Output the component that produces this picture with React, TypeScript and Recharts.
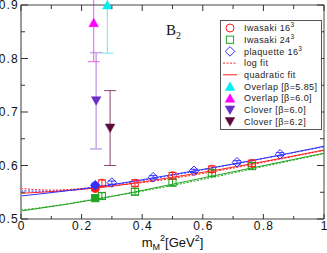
import React from 'react';
import { ComposedChart, Line, Scatter, XAxis, YAxis, ErrorBar, Legend } from 'recharts';

// ---------- data ----------
const xTicks = [0, 0.1, 0.2, 0.3, 0.4, 0.5, 0.6, 0.7, 0.8, 0.9, 1];
const xTickLabels = ['0', '', '0.2', '', '0.4', '', '0.6', '', '0.8', '', '1'];
const yTicks = [0.5, 0.55, 0.6, 0.65, 0.7, 0.75, 0.8, 0.85, 0.9];
const yTickLabels = ['0.5', '', '0.6', '', '0.7', '', '0.8', '', '0.9'];

// Iwasaki 16^3 (open red circles)
const iwa16X = [0.267, 0.376, 0.5, 0.63, 0.762];
const iwa16Y = [0.567, 0.567, 0.581, 0.593, 0.604];
const iwa16E = [0.006, 0.006, 0.006, 0.006, 0.006];
// Iwasaki 24^3 (open green squares)
const iwa24X = [0.267, 0.376, 0.5, 0.63, 0.762];
const iwa24Y = [0.543, 0.551, 0.568, 0.586, 0.599];
const iwa24E = [0.006, 0.006, 0.006, 0.006, 0.006];
// plaquette 16^3 (open blue diamonds)
const plaqX = [0.3, 0.436, 0.571, 0.713, 0.855];
const plaqY = [0.568, 0.578, 0.59, 0.606, 0.621];
const plaqE = [0.003, 0.003, 0.003, 0.003, 0.003];

// interpolated (filled) points
const iwa16FillX = [0.245];
const iwa16FillY = [0.557];
const iwa16FillE = [0.004];
const iwa24FillX = [0.245];
const iwa24FillY = [0.539];
const iwa24FillE = [0.004];
const plaqFillX = [0.245];
const plaqFillY = [0.563];
const plaqFillE = [0.004];

// quadratic fits (solid)
const fitX = [0, 0.25, 0.5, 0.75, 1];
const quadRed = [0.548, 0.558, 0.578, 0.602, 0.629];
const quadGreen = [0.515, 0.537, 0.565, 0.594, 0.623];
const quadBlue = [0.543, 0.56, 0.583, 0.608, 0.636];

// log fits (dashed)
const logX = [0, 0.05, 0.1, 0.15, 0.2, 0.25, 0.4, 0.6, 0.8, 1];
const logRed = [0.557, 0.555, 0.554, 0.555, 0.557, 0.56, 0.568, 0.585, 0.606, 0.628];
const logBlue = [0.553, 0.552, 0.552, 0.553, 0.556, 0.56, 0.572, 0.592, 0.613, 0.635];
const logGreen = [0.517, 0.52, 0.524, 0.528, 0.533, 0.538, 0.552, 0.574, 0.598, 0.622];

// lattice comparison points
const ovl585 = { x: [0.285], y: [0.9], e: [0.09] };
const ovl60 = { x: [0.24], y: [0.867], e: [0.073] };
const clv60 = { x: [0.248], y: [0.721], e: [0.09] };
const clv62 = { x: [0.294], y: [0.67], e: [0.07] };

const legendLabels = ['Iwasaki 16', 'Iwasaki 24', 'plaquette 16', 'log fit', 'quadratic fit',
  'Overlap [\u03b2=5.85]', 'Overlap [\u03b2=6.0]', 'Clover [\u03b2=6.0]', 'Clover [\u03b2=6.2]'];
const legendSups = ['3', '3', '3', '', '', '', '', '', ''];

// ---------- styling ----------
const RED = '#ff1f1f';
const GREEN = '#1fa51f';
const BLUE = '#3030ff';
const CYAN = '#00f0f0';
const MAGENTA = '#ff00ff';
const PURPLE = '#6a2ec8';
const MAROON = '#5c0a3c';
const FONT = '"Liberation Sans", Arial, Helvetica, sans-serif';

const pts = (xs: number[], ys: number[], es?: number[]) =>
  xs.map((x, i) => ({ x, y: ys[i], e: es ? es[i] : 0 }));

// ---------- marker shapes ----------
const circleShape = (color: string, filled: boolean) => (p: any) =>
  <circle cx={p.cx} cy={p.cy} r={4} fill={filled ? color : 'none'} stroke={color} strokeWidth={1} />;
const squareShape = (color: string, filled: boolean) => (p: any) =>
  <rect x={p.cx - 3.6} y={p.cy - 3.6} width={7.2} height={7.2} fill={filled ? color : 'none'} stroke={color} strokeWidth={1} />;
const diamondShape = (color: string, filled: boolean) => (p: any) =>
  <polygon points={`${p.cx},${p.cy - 4.8} ${p.cx + 4.8},${p.cy} ${p.cx},${p.cy + 4.8} ${p.cx - 4.8},${p.cy}`} fill={filled ? color : 'none'} stroke={color} strokeWidth={1} />;
const triUpShape = (color: string) => (p: any) =>
  <polygon points={`${p.cx},${p.cy - 4.5} ${p.cx + 4.8},${p.cy + 4} ${p.cx - 4.8},${p.cy + 4}`} fill={color} stroke={color} strokeWidth={0.5} />;
const triDownShape = (color: string) => (p: any) =>
  <polygon points={`${p.cx},${p.cy + 4.5} ${p.cx + 4.8},${p.cy - 4} ${p.cx - 4.8},${p.cy - 4}`} fill={color} stroke={color} strokeWidth={0.5} />;
const noShape = () => <g />;

// ---------- ticks ----------
const tickText = { fontFamily: FONT, fontSize: 12, fill: '#111', letterSpacing: 1.2 } as const;

const BottomTick = (p: any) => {
  const lab = xTickLabels[p.index];
  const len = lab ? 5 : 3;
  return (
    <g>
      <line x1={p.x} x2={p.x} y1={p.y} y2={p.y - len} stroke="#333" strokeWidth={1} />
      {lab ? <text x={p.x + 0.6} y={p.y + 11} textAnchor="middle" {...tickText}>{lab}</text> : null}
    </g>
  );
};
const TopTick = (p: any) => {
  const lab = xTickLabels[p.index];
  const len = lab ? 6 : 4;
  return <line x1={p.x} x2={p.x} y1={p.y} y2={p.y + len} stroke="#333" strokeWidth={1} />;
};
const LeftTick = (p: any) => {
  const lab = yTickLabels[p.index];
  const len = lab ? 7 : 4;
  return (
    <g>
      <line x1={p.x} x2={p.x + len} y1={p.y} y2={p.y} stroke="#333" strokeWidth={1} />
      {lab ? <text x={p.x - 2} y={p.y + 4} textAnchor="end" {...tickText}>{lab}</text> : null}
    </g>
  );
};
const RightTick = (p: any) => {
  const lab = yTickLabels[p.index];
  const len = lab ? 7 : 4;
  return <line x1={p.x} x2={p.x - len} y1={p.y} y2={p.y} stroke="#333" strokeWidth={1} />;
};

const XLabel = (p: any) => {
  const vb = p.viewBox || {};
  const cx = (vb.x ?? 21) + (vb.width ?? 303) / 2;
  return (
    <text x={cx} y={247} textAnchor="middle" fontFamily={FONT} fontSize={13} fill="#111">
      m
      <tspan fontSize={9} dy={3}>M</tspan>
      <tspan fontSize={9} dy={-9}>2</tspan>
      <tspan fontSize={13} dy={6}>[GeV</tspan>
      <tspan fontSize={9} dy={-6}>2</tspan>
      <tspan fontSize={13} dy={6}>]</tspan>
    </text>
  );
};

// ---------- legend ----------
const LegendIcon = ({ i, cx, cy }: { i: number; cx: number; cy: number }) => {
  const p = { cx, cy };
  switch (i) {
    case 0: return circleShape(RED, false)(p);
    case 1: return squareShape(GREEN, false)(p);
    case 2: return diamondShape(BLUE, false)(p);
    case 3: return <line x1={cx - 7} x2={cx + 7} y1={cy} y2={cy} stroke={RED} strokeDasharray="2 1.5" strokeWidth={1} />;
    case 4: return <line x1={cx - 7} x2={cx + 7} y1={cy} y2={cy} stroke={RED} strokeWidth={1} />;
    case 5: return triUpShape(CYAN)(p);
    case 6: return triUpShape(MAGENTA)(p);
    case 7: return triDownShape(PURPLE)(p);
    default: return triDownShape(MAROON)(p);
  }
};

const LegendBox = () => (
  <svg width={102} height={110} style={{ display: 'block' }}>
    <rect x={0.5} y={0.5} width={101} height={109} fill="#fff" stroke="#555" strokeWidth={1} />
    {legendLabels.map((lab, i) => {
      const cy = 8 + i * 11.7;
      return (
        <g key={lab}>
          <LegendIcon i={i} cx={10} cy={cy} />
          <text x={24} y={cy + 3.2} fontFamily={FONT} fontSize={9} letterSpacing={0.4} fill="#222">
            {lab}
            {legendSups[i] ? <tspan fontSize={6.5} dy={-4}>{legendSups[i]}</tspan> : null}
          </text>
        </g>
      );
    })}
  </svg>
);

export default function App() {
  return (
    <div style={{ position: 'absolute', left: 0, top: 0, width: 327, height: 253, background: '#fff' }}>
      <ComposedChart width={327} height={253} margin={{ top: 4, right: 2, bottom: 33, left: 20 }}>
        <XAxis xAxisId="b" dataKey="x" type="number" domain={[0, 1]} ticks={xTicks} interval={0}
          allowDataOverflow height={1} tickSize={0} tickMargin={0} tickLine={false}
          axisLine={{ stroke: '#444', strokeWidth: 1 }} tick={BottomTick} label={<XLabel />} />
        <XAxis xAxisId="t" orientation="top" dataKey="x" type="number" domain={[0, 1]} ticks={xTicks}
          interval={0} allowDataOverflow height={1} tickSize={0} tickMargin={0} tickLine={false}
          axisLine={{ stroke: '#444', strokeWidth: 1 }} tick={TopTick} />
        <YAxis yAxisId="l" dataKey="y" type="number" domain={[0.5, 0.9]} ticks={yTicks} interval={0}
          allowDataOverflow width={1} tickSize={0} tickMargin={0} tickLine={false}
          axisLine={{ stroke: '#9a9a9a', strokeWidth: 2 }} tick={LeftTick} />
        <YAxis yAxisId="r" orientation="right" dataKey="y" type="number" domain={[0.5, 0.9]} ticks={yTicks}
          interval={0} allowDataOverflow width={1} tickSize={0} tickMargin={0} tickLine={false}
          axisLine={{ stroke: '#444', strokeWidth: 1 }} tick={RightTick} />
        <YAxis yAxisId="m" dataKey="y" type="number" domain={[0.5, 0.9]} hide />

        {/* log fits (dashed) */}
        <Line xAxisId="b" yAxisId="l" data={pts(logX, logGreen)} dataKey="y" type="monotone" stroke={GREEN} strokeDasharray="2 1.5" dot={false} isAnimationActive={false} />
        <Line xAxisId="b" yAxisId="l" data={pts(logX, logRed)} dataKey="y" type="monotone" stroke={RED} strokeDasharray="2 1.5" dot={false} isAnimationActive={false} />
        <Line xAxisId="b" yAxisId="l" data={pts(logX, logBlue)} dataKey="y" type="monotone" stroke={BLUE} strokeDasharray="2 1.5" dot={false} isAnimationActive={false} />
        {/* quadratic fits (solid) */}
        <Line xAxisId="b" yAxisId="l" data={pts(fitX, quadGreen)} dataKey="y" type="monotone" stroke={GREEN} dot={false} isAnimationActive={false} />
        <Line xAxisId="b" yAxisId="l" data={pts(fitX, quadRed)} dataKey="y" type="monotone" stroke={RED} dot={false} isAnimationActive={false} />
        <Line xAxisId="b" yAxisId="l" data={pts(fitX, quadBlue)} dataKey="y" type="monotone" stroke={BLUE} dot={false} isAnimationActive={false} />

        {/* simulation data */}
        <Scatter xAxisId="b" yAxisId="l" data={pts(iwa24X, iwa24Y, iwa24E)} dataKey="y" shape={squareShape(GREEN, false)} isAnimationActive={false}>
          <ErrorBar dataKey="e" direction="y" width={4} stroke={GREEN} strokeWidth={1} />
        </Scatter>
        <Scatter xAxisId="b" yAxisId="l" data={pts(iwa16X, iwa16Y, iwa16E)} dataKey="y" shape={circleShape(RED, false)} isAnimationActive={false}>
          <ErrorBar dataKey="e" direction="y" width={4} stroke={RED} strokeWidth={1} />
        </Scatter>
        <Scatter xAxisId="b" yAxisId="l" data={pts(plaqX, plaqY, plaqE)} dataKey="y" shape={diamondShape(BLUE, false)} isAnimationActive={false}>
          <ErrorBar dataKey="e" direction="y" width={4} stroke={BLUE} strokeWidth={1} />
        </Scatter>
        <Scatter xAxisId="b" yAxisId="l" data={pts(iwa24FillX, iwa24FillY, iwa24FillE)} dataKey="y" shape={squareShape(GREEN, true)} isAnimationActive={false}>
          <ErrorBar dataKey="e" direction="y" width={4} stroke={GREEN} strokeWidth={1} />
        </Scatter>
        <Scatter xAxisId="b" yAxisId="l" data={pts(iwa16FillX, iwa16FillY, iwa16FillE)} dataKey="y" shape={circleShape(RED, true)} isAnimationActive={false}>
          <ErrorBar dataKey="e" direction="y" width={4} stroke={RED} strokeWidth={1} />
        </Scatter>
        <Scatter xAxisId="b" yAxisId="l" data={pts(plaqFillX, plaqFillY, plaqFillE)} dataKey="y" shape={diamondShape(BLUE, true)} isAnimationActive={false}>
          <ErrorBar dataKey="e" direction="y" width={4} stroke={BLUE} strokeWidth={1} />
        </Scatter>

        {/* lattice comparison: error bars (clipped axis) */}
        <Scatter xAxisId="b" yAxisId="l" data={pts(clv60.x, clv60.y, clv60.e)} dataKey="y" shape={noShape} isAnimationActive={false}>
          <ErrorBar dataKey="e" direction="y" width={6} stroke="#c6a8ea" strokeWidth={1.5} />
        </Scatter>
        <Scatter xAxisId="b" yAxisId="l" data={pts(clv62.x, clv62.y, clv62.e)} dataKey="y" shape={noShape} isAnimationActive={false}>
          <ErrorBar dataKey="e" direction="y" width={6} stroke="#8a4470" strokeWidth={1} />
        </Scatter>
        <Scatter xAxisId="b" yAxisId="l" data={pts(ovl60.x, ovl60.y, ovl60.e)} dataKey="y" shape={noShape} isAnimationActive={false}>
          <ErrorBar dataKey="e" direction="y" width={6} stroke="#e860e8" strokeWidth={1} />
        </Scatter>
        <Scatter xAxisId="b" yAxisId="l" data={pts(ovl585.x, ovl585.y, ovl585.e)} dataKey="y" shape={noShape} isAnimationActive={false}>
          <ErrorBar dataKey="e" direction="y" width={6} stroke="#70e6e6" strokeWidth={1} />
        </Scatter>
        {/* lattice comparison: markers (unclipped axis) */}
        <Scatter xAxisId="b" yAxisId="m" data={pts(clv60.x, clv60.y)} dataKey="y" shape={triDownShape(PURPLE)} isAnimationActive={false} />
        <Scatter xAxisId="b" yAxisId="m" data={pts(clv62.x, clv62.y)} dataKey="y" shape={triDownShape(MAROON)} isAnimationActive={false} />
        <Scatter xAxisId="b" yAxisId="m" data={pts(ovl60.x, ovl60.y)} dataKey="y" shape={triUpShape(MAGENTA)} isAnimationActive={false} />
        <Scatter xAxisId="b" yAxisId="m" data={pts(ovl585.x, ovl585.y)} dataKey="y" shape={triUpShape(CYAN)} isAnimationActive={false} />

        <text x={166} y={35} fontFamily='"Liberation Serif", "Times New Roman", serif' fontSize={15} fill="#111">
          B<tspan fontSize={10} dy={4}>2</tspan>
        </text>

        <Legend layout="vertical" align="center" verticalAlign="middle" content={<LegendBox />}
          wrapperStyle={{ left: 220, top: 20, width: 102, height: 110 }} />
      </ComposedChart>
    </div>
  );
}
